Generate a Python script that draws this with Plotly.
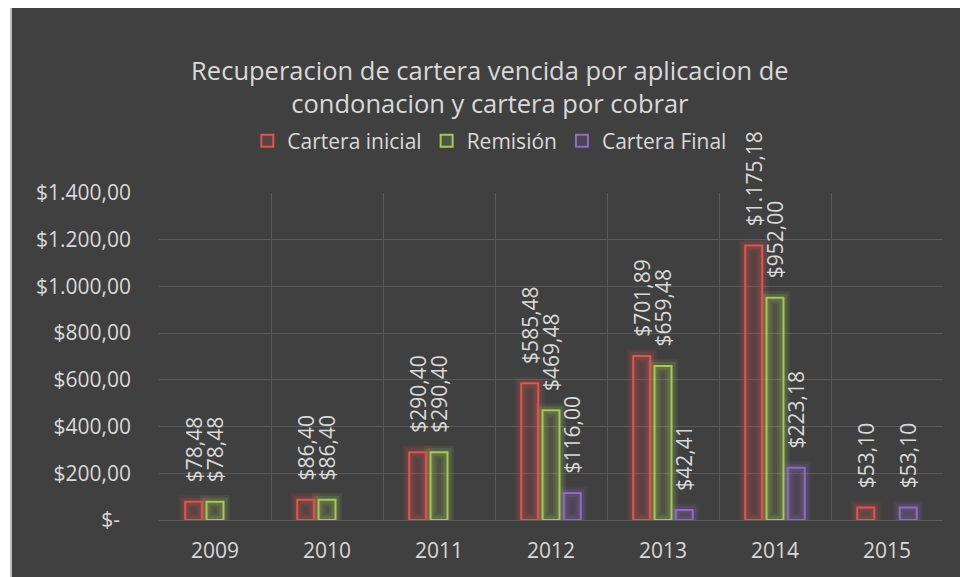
import plotly.graph_objects as go

years = ["2009", "2010", "2011", "2012", "2013", "2014", "2015"]
cartera_inicial = [78.48, 86.40, 290.40, 585.48, 701.89, 1175.18, 53.10]
remision = [78.48, 86.40, 290.40, 469.48, 659.48, 952.00, None]
cartera_final = [None, None, None, 116.00, 42.41, 223.18, 53.10]

y_tickvals = [0, 200, 400, 600, 800, 1000, 1200, 1400]
y_ticktext = ["$-\u00a0\u00a0", "$200,00", "$400,00", "$600,00", "$800,00",
              "$1.000,00", "$1.200,00", "$1.400,00"]

title_text = "Recuperacion de cartera vencida por aplicacion de<br>condonacion y cartera por cobrar"

FONT = "Open Sans"
TXT = "#D9D9D9"


def fmt(v):
    if v is None:
        return ""
    s = f"{v:,.2f}"
    s = s.replace(",", "X").replace(".", ",").replace("X", ".")
    return "\u00a0\u00a0\u00a0$" + s


series = [
    ("Cartera inicial", cartera_inicial, (220, 85, 80), "a"),
    ("Remisión", remision, (165, 200, 90), "b"),
    ("Cartera Final", cartera_final, (142, 108, 192), "c"),
]


def rgba(c, a):
    return f"rgba({c[0]},{c[1]},{c[2]},{a})"


fig = go.Figure()

# soft glow layers
for width, alpha in [(13, 0.10), (8, 0.16)]:
    for name, vals, c, grp in series:
        fig.add_trace(go.Bar(
            x=years, y=vals, offsetgroup=grp, showlegend=False, hoverinfo="skip",
            marker=dict(color="rgba(0,0,0,0)", line=dict(color=rgba(c, alpha), width=width)),
        ))

for name, vals, c, grp in series:
    fig.add_trace(go.Bar(
        x=years, y=vals, name=name, offsetgroup=grp,
        marker=dict(color=rgba(c, 0.14), line=dict(color=rgba(c, 1), width=2)),
        text=[fmt(v) for v in vals], textposition="outside", textangle=-90,
        constraintext="none", cliponaxis=False,
        outsidetextfont=dict(family=FONT, size=21, color=TXT),
    ))

fig.add_shape(type="rect", xref="paper", yref="paper",
              x0=-0.1888, x1=1.06, y0=-0.2, y1=1.5719,
              fillcolor="#404040", line=dict(color="#BFBFBF", width=2), layer="below")

fig.update_layout(
    width=960, height=569,
    margin=dict(l=151, r=25, t=185, b=57),
    paper_bgcolor="#FFFFFF", plot_bgcolor="rgba(0,0,0,0)",
    barmode="group", bargap=0.43, bargroupgap=0.2,
    font=dict(family=FONT, color=TXT, size=21),
    title=dict(text=title_text, x=0.502, xref="container", xanchor="center",
               y=1 - 72 / 569, yref="container", yanchor="top",
               font=dict(family=FONT, size=25.5, color=TXT)),
    legend=dict(orientation="h", x=0.422, xanchor="center", y=1.159, yanchor="middle",
                font=dict(family=FONT, size=21, color=TXT), bgcolor="rgba(0,0,0,0)",
                traceorder="normal", itemwidth=30),
    showlegend=True,
)

fig.update_xaxes(type="category", range=[-0.5, 6.5], tickson="boundaries",
                 showgrid=True, gridcolor="#595959", gridwidth=1, ticks="",
                 showline=False, zeroline=False, ticklabelstandoff=16,
                 tickfont=dict(family=FONT, size=21, color=TXT))
fig.update_yaxes(range=[0, 1400], tickvals=y_tickvals, ticktext=y_ticktext,
                 showgrid=True, gridcolor="#595959", gridwidth=1, zeroline=True,
                 zerolinecolor="#595959", zerolinewidth=1, ticks="", showline=False,
                 ticklabelstandoff=27, tickfont=dict(family=FONT, size=21, color=TXT))

fig.write_html("out.html")
